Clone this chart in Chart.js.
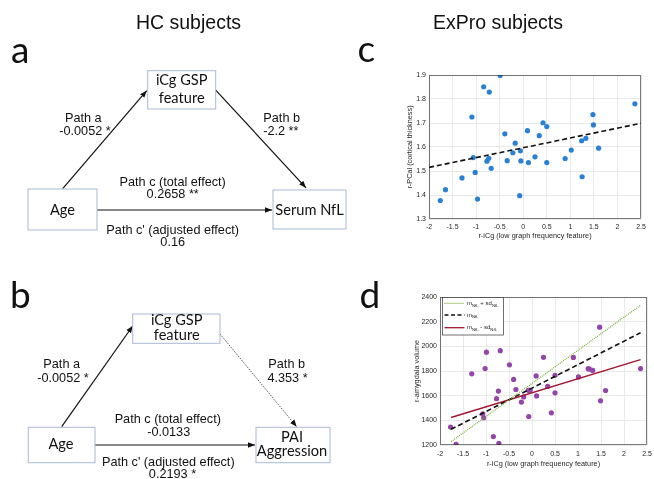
<!DOCTYPE html>
<html><head><meta charset="utf-8">
<script src="https://cdn.jsdelivr.net/npm/chart.js@4.4.1/dist/chart.umd.min.js"></script>
<style>
html,body{margin:0;padding:0;background:#fff;}
#page{position:relative;width:654px;height:479px;overflow:hidden;background:#fff;}
canvas{position:absolute;}
#cc{left:390px;top:65px;}
#cd{left:395px;top:285px;}
#ov{position:absolute;left:0;top:0;pointer-events:none;}
.p{font-family:'Liberation Sans',Arial,sans-serif;font-size:12.7px;fill:#111;text-anchor:middle;}
.bx{font-family:Lato,sans-serif;font-size:14.6px;fill:#111;text-anchor:middle;}
.lt{font-family:Lato,sans-serif;font-size:37px;fill:#111;}
.tt{font-family:'Liberation Sans',Arial,sans-serif;font-size:19.5px;fill:#111;text-anchor:middle;}
.lg{font-family:'Liberation Sans',Arial,sans-serif;font-size:6px;fill:#222;}
.box{fill:#fff;stroke:#a9b8d4;stroke-width:1;}
.ar{stroke:#111;stroke-width:1.2;fill:none;marker-end:url(#ah);}
</style></head><body>
<div id="page">
<canvas id="cc" width="260" height="180"></canvas>
<canvas id="cd" width="259" height="194"></canvas>
<svg id="ov" width="654" height="479" xmlns="http://www.w3.org/2000/svg">
<defs>
<marker id="ah" viewBox="0 0 10 10" refX="10" refY="5" markerWidth="7" markerHeight="7" markerUnits="userSpaceOnUse" orient="auto"><path d="M0,1 L10,5 L0,9 z" fill="#111"/></marker>
</defs>
<!-- titles -->
<text class="tt" x="188.5" y="29">HC subjects</text>
<text class="tt" x="498" y="29">ExPro subjects</text>
<!-- panel letters -->
<text class="lt" x="11" y="63.3">a</text>
<text class="lt" x="10" y="307.7">b</text>
<text class="lt" x="357.5" y="61.7">c</text>
<text class="lt" x="359.5" y="308.3">d</text>
<!-- diagram a -->
<line class="ar" x1="62.7" y1="188.7" x2="146.7" y2="90.7"/>
<line class="ar" x1="215" y1="89.3" x2="306" y2="187.8"/>
<line class="ar" x1="97" y1="210" x2="272" y2="210"/>
<rect class="box" x="147.7" y="70.7" width="68" height="38.3"/>
<rect class="box" x="28" y="189" width="69" height="41"/>
<rect class="box" x="273" y="190" width="73" height="39"/>
<text class="bx" x="181.7" y="85">iCg GSP</text>
<text class="bx" x="181.7" y="103.3">feature</text>
<text class="bx" x="62.5" y="215.4">Age</text>
<text class="bx" x="309.5" y="215.4">Serum NfL</text>
<text class="p" x="83.3" y="122">Path a</text>
<text class="p" x="85" y="134.5">-0.0052 *</text>
<text class="p" x="281.7" y="122">Path b</text>
<text class="p" x="280.8" y="134.5">-2.2 **</text>
<text class="p" x="172.7" y="186">Path c (total effect)</text>
<text class="p" x="172.7" y="198.3">0.2658 **</text>
<text class="p" x="172.7" y="233.5">Path c' (adjusted effect)</text>
<text class="p" x="172.7" y="245.5">0.16</text>
<!-- diagram b -->
<line class="ar" x1="61.7" y1="426.7" x2="132.7" y2="326"/>
<line x1="220" y1="334" x2="296.7" y2="426.7" stroke="#111" stroke-width="0.8" stroke-dasharray="1.2 1.2" marker-end="url(#ah)"/>
<line class="ar" x1="95" y1="445" x2="255" y2="445"/>
<rect class="box" x="132.7" y="314" width="87.3" height="29.3"/>
<rect class="box" x="28.3" y="427.3" width="66.7" height="35.4"/>
<rect class="box" x="256" y="427.3" width="74" height="35.4"/>
<text class="bx" x="176.7" y="325">iCg GSP</text>
<text class="bx" x="176.7" y="340">feature</text>
<text class="bx" x="61" y="449.3">Age</text>
<text class="bx" x="292" y="441.7">PAI</text>
<text class="bx" x="292" y="456">Aggression</text>
<text class="p" x="61.7" y="367.7">Path a</text>
<text class="p" x="63" y="381.7">-0.0052 *</text>
<text class="p" x="286.7" y="367.7">Path b</text>
<text class="p" x="287.5" y="381.7">4.353 *</text>
<text class="p" x="167.8" y="422.7">Path c (total effect)</text>
<text class="p" x="168.7" y="436">-0.0133</text>
<text class="p" x="168.3" y="466">Path c' (adjusted effect)</text>
<text class="p" x="172.5" y="477.5">0.2193 *</text>
<!-- legend for d -->
<rect x="442.5" y="297.5" width="61" height="37.5" fill="#fff" stroke="#333" stroke-width="0.7"/>
<line x1="444.5" y1="303.3" x2="464.5" y2="303.3" stroke="#77AC30" stroke-width="1.2" stroke-dasharray="1 1"/>
<line x1="444.5" y1="315" x2="464.5" y2="315" stroke="#111" stroke-width="1.4" stroke-dasharray="4 2.5"/>
<line x1="444.5" y1="327.7" x2="464.5" y2="327.7" stroke="#A2142F" stroke-width="1.3"/>
<text class="lg" x="467" y="305">m<tspan font-size="4.3" dy="1.5">NfL</tspan><tspan dy="-1.5"> + sd</tspan><tspan font-size="4.3" dy="1.5">NfL</tspan></text>
<text class="lg" x="467" y="316.7">m<tspan font-size="4.3" dy="1.5">NfL</tspan></text>
<text class="lg" x="467" y="329.4">m<tspan font-size="4.3" dy="1.5">NfL</tspan><tspan dy="-1.5"> - sd</tspan><tspan font-size="4.3" dy="1.5">NfL</tspan></text>
</svg>
</div>
<script>
// ---- panel c data ----
const cX = [-1.76,-1.65,-1.30,-1.09,-1.06,-1.02,-0.97,-0.84,-0.72,-0.49,-0.77,-0.73,-0.68,-0.39,-0.34,-0.22,-0.17,-0.075,-0.06,-0.05,0.09,0.11,0.25,0.34,0.42,0.50,0.50,0.89,1.02,1.24,1.25,1.33,1.48,1.49,1.60,2.37];
const cY = [1.377,1.422,1.471,1.725,1.556,1.494,1.383,1.851,1.829,1.898,1.541,1.553,1.511,1.655,1.543,1.576,1.616,1.397,1.584,1.542,1.668,1.535,1.559,1.647,1.701,1.685,1.535,1.552,1.587,1.626,1.476,1.636,1.735,1.692,1.595,1.780];
const cFitX = [-2, 2.5];
const cFitY = [1.515, 1.699];
const cYTicks = [1.3,1.4,1.5,1.6,1.7,1.8,1.9];
// ---- panel d data ----
const dX = [-1.77,-1.65,-1.31,-0.99,-1.02,-1.07,-1.05,-0.84,-0.72,-0.69,-0.73,-0.77,-0.49,-0.40,-0.35,-0.23,-0.18,-0.08,-0.04,-0.07,0.10,0.09,0.25,0.34,0.42,0.50,0.50,0.90,1.01,1.22,1.25,1.32,1.47,1.49,1.60,2.36];
const dY = [1345,1206,1777,1953,1820,1452,1420,1268,1213,1965,1637,1576,1850,1732,1650,1548,1590,1643,1644,1431,1598,1760,1911,1675,1461,1623,1765,1910,1752,1819,1816,1805,2155,1558,1642,1820];
const dFitX = [-1.76, 2.36];
const dPlusY = [1227, 2333];
const dMeanY = [1327, 2110];
const dMinusY = [1423, 1892];
const dYTicks = [1200,1400,1600,1800,2000,2200,2400];
const xTicks = [-2,-1.5,-1,-0.5,0,0.5,1,1.5,2,2.5];
const xTitle = 'r-iCg (low graph frequency feature)';

const pts = (xs, ys) => xs.map((x, i) => ({x, y: ys[i]}));
const fmt = v => String(Math.round(v * 10) / 10);

const boxPlugin = {
  id: 'boxPlugin',
  afterDatasetsDraw(chart) {
    const a = chart.chartArea, ctx = chart.ctx;
    ctx.save();
    ctx.strokeStyle = 'rgba(38,38,38,0.75)';
    ctx.lineWidth = 0.8;
    ctx.strokeRect(a.left + 0.5, a.top + 0.5, a.right - a.left - 1, a.bottom - a.top - 1);
    ctx.restore();
  }
};

function makeScales(o) {
  const tickFont = {family: "'Liberation Sans', Arial, sans-serif", size: 7};
  const titleFont = {family: "'Liberation Sans', Arial, sans-serif", size: 7.3};
  return {
    x: {
      type: 'linear', min: -2, max: 2.5,
      afterBuildTicks: s => { s.ticks = xTicks.map(v => ({value: v})); },
      afterFit: s => { s.height = o.xh; s.paddingLeft = 0; s.paddingRight = 0; },
      grid: {color: '#e3e3e3', lineWidth: 0.8, drawTicks: false},
      border: {display: false},
      ticks: {font: tickFont, color: '#262626', padding: o.xpad, maxRotation: 0, callback: v => fmt(v)},
      title: {display: true, text: xTitle, font: titleFont, color: '#262626', padding: {top: 0, bottom: o.xtb}}
    },
    y: {
      type: 'linear', min: o.ymin, max: o.ymax,
      afterBuildTicks: s => { s.ticks = o.yt.map(v => ({value: v})); },
      afterFit: s => { s.width = o.yw; s.paddingTop = 0; s.paddingBottom = 0; },
      grid: {color: '#e3e3e3', lineWidth: 0.8, drawTicks: false},
      border: {display: false},
      ticks: {font: tickFont, color: '#262626', padding: 3, callback: o.yfmt},
      title: {display: true, text: o.ytitle, font: titleFont, color: '#262626', padding: {top: o.ytp, bottom: 0}}
    }
  };
}

new Chart(document.getElementById('cc'), {
  type: 'scatter',
  data: {datasets: [
    {data: pts(cX, cY), pointStyle: 'circle', pointRadius: 2.6, backgroundColor: '#2a80d2', borderWidth: 0, order: 2},
    {data: pts(cFitX, cFitY), showLine: true, pointRadius: 0, borderColor: '#111', borderWidth: 1.6, borderDash: [5, 3], order: 1}
  ]},
  options: {
    responsive: false, animation: false, devicePixelRatio: 1,
    layout: {padding: {top: 10, right: 9, bottom: 0, left: 0}},
    plugins: {legend: {display: false}, tooltip: {enabled: false}},
    scales: makeScales({xh: 26, xpad: 4, xtb: 4.5, ymin: 1.3, ymax: 1.9, yt: cYTicks, yw: 39, ytp: 16,
      yfmt: v => (Math.round(v * 10) / 10).toFixed(1), ytitle: 'r-PCal (cortical thickness)'})
  },
  plugins: [boxPlugin]
});

new Chart(document.getElementById('cd'), {
  type: 'scatter',
  data: {datasets: [
    {data: pts(dX, dY), pointStyle: 'circle', pointRadius: 2.6, backgroundColor: '#9345a8', borderWidth: 0, order: 4},
    {data: pts(dFitX, dPlusY), showLine: true, pointRadius: 0, borderColor: '#77AC30', borderWidth: 1.2, borderDash: [1, 1], order: 1},
    {data: pts(dFitX, dMeanY), showLine: true, pointRadius: 0, borderColor: '#111', borderWidth: 1.6, borderDash: [5, 3], order: 2},
    {data: pts(dFitX, dMinusY), showLine: true, pointRadius: 0, borderColor: '#A2142F', borderWidth: 1.4, order: 3}
  ]},
  options: {
    responsive: false, animation: false, devicePixelRatio: 1,
    layout: {padding: {top: 12, right: 7, bottom: 0, left: 0}},
    plugins: {legend: {display: false}, tooltip: {enabled: false}},
    scales: makeScales({xh: 34, xpad: 4.5, xtb: 10.9, ymin: 1200, ymax: 2400, yt: dYTicks, yw: 45, ytp: 17.5,
      yfmt: v => String(Math.round(v)), ytitle: 'r-amygdala volume'})
  },
  plugins: [boxPlugin]
});
</script>
</body></html>
